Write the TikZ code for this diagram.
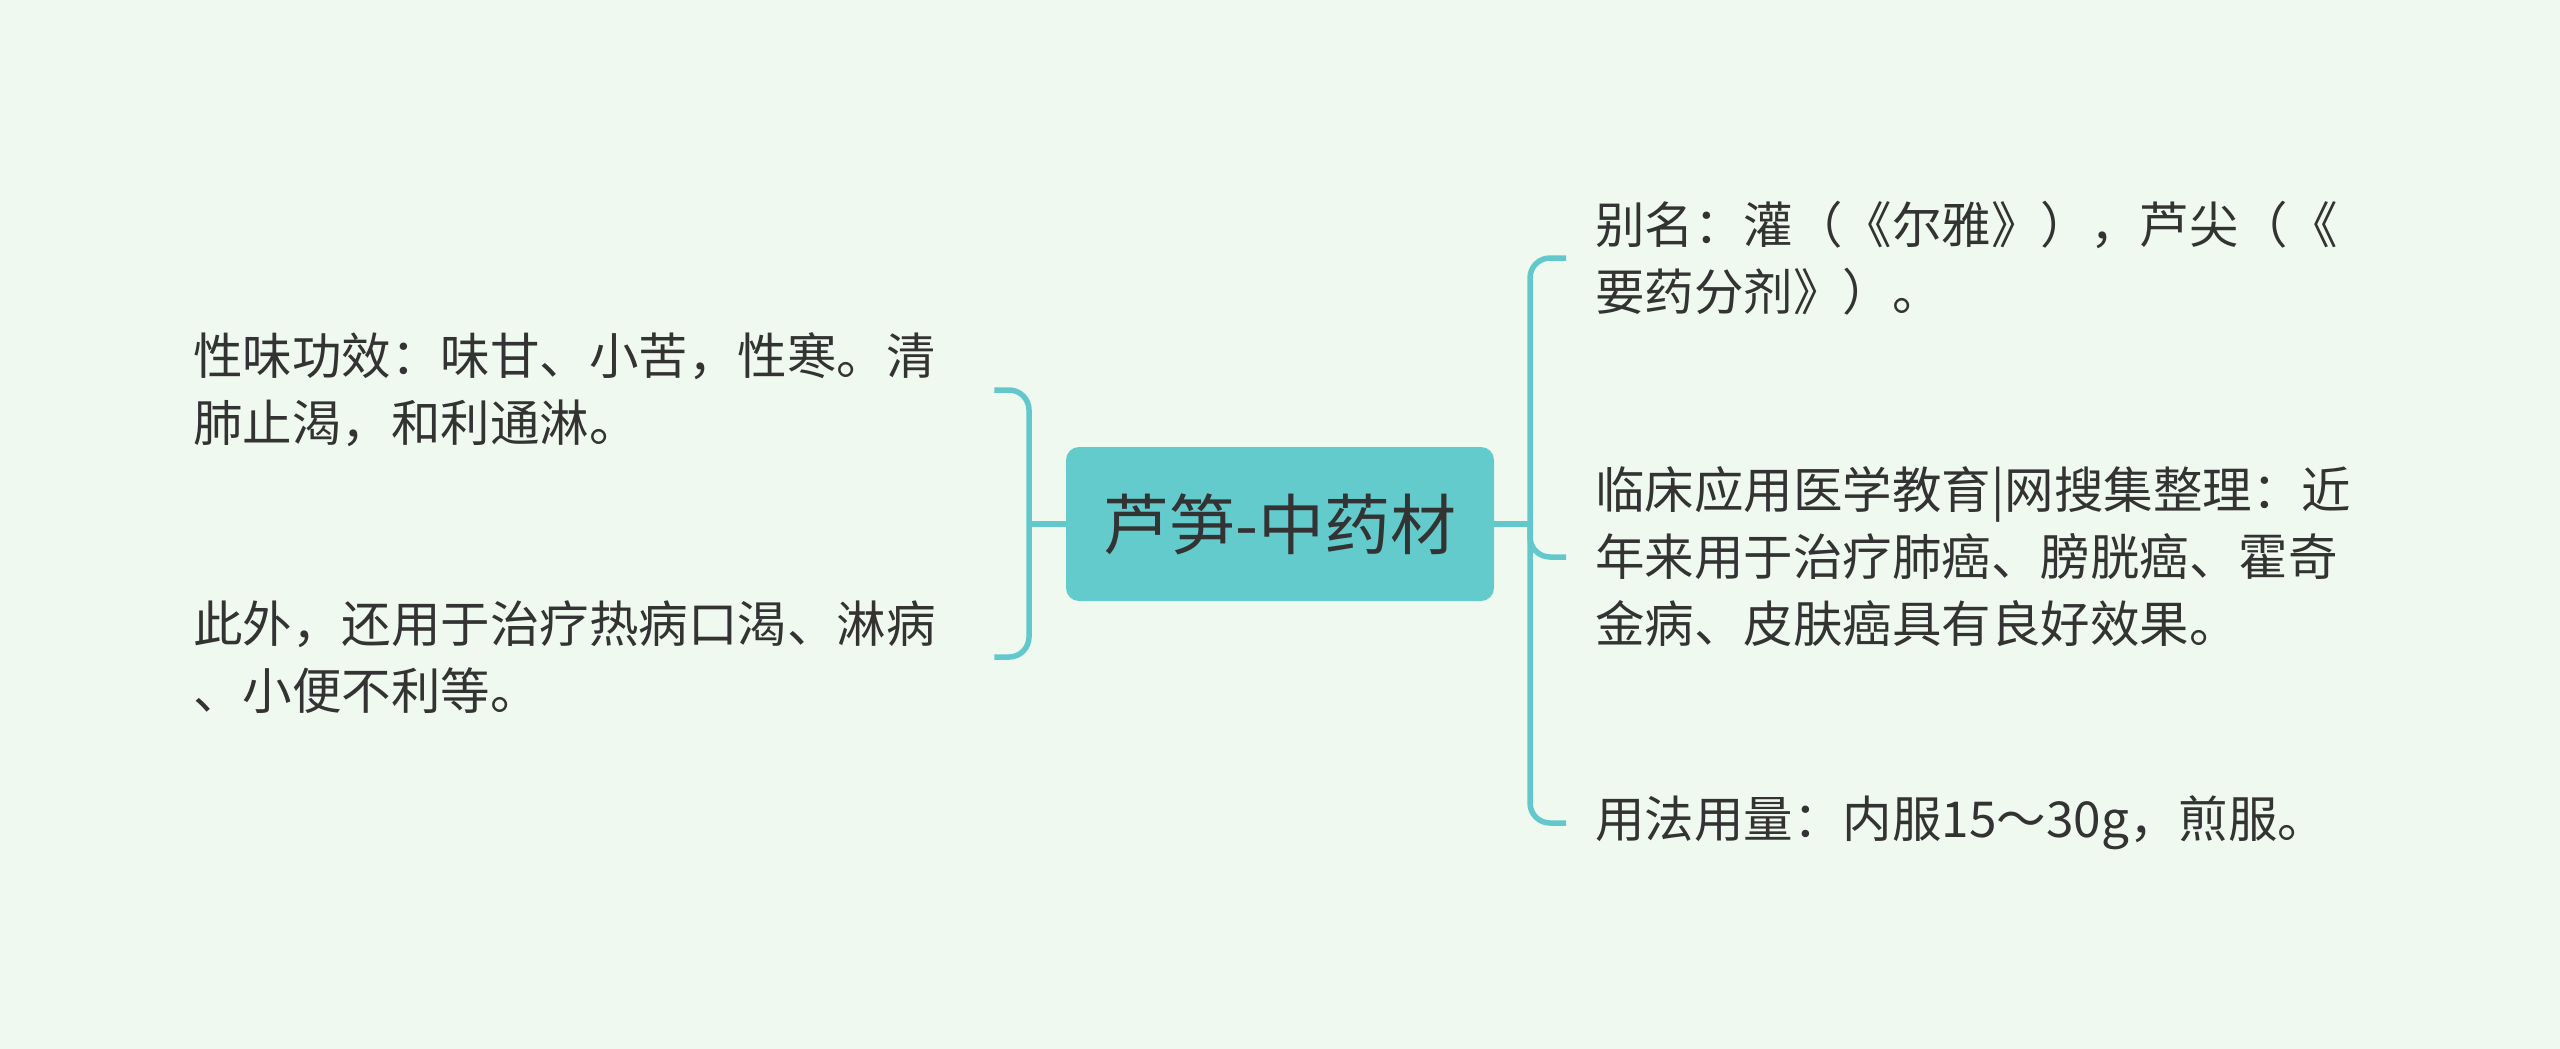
\documentclass[tikz,border=0pt]{standalone}
\usepackage{fontspec}
\newfontfamily\cjk{Noto Sans CJK SC}
\definecolor{bgC}{HTML}{F0F9EF}
\definecolor{lineC}{HTML}{62C8CB}
\definecolor{rootC}{HTML}{63CBCC}
\definecolor{txtC}{HTML}{333333}
\begin{document}
\begin{tikzpicture}[x=1pt,y=-1pt,
  conn/.style={draw=lineC, line width=5.5pt},
  leaf/.style={anchor=west, inner sep=0pt, align=left, text=txtC,
    font=\cjk\fontsize{49.5}{67}\selectfont},
  leftleaf/.style={leaf, text width=746pt}]
\fill[bgC] (0,0) rectangle (2560,1049);
\useasboundingbox (0,0) rectangle (2560,1049);
\node[fill=rootC, rounded corners=13pt, minimum width=428pt, minimum height=154pt,
  inner sep=0pt, text=txtC, font=\cjk\fontsize{66}{70}\selectfont] (root) at (1280,524) {芦笋-中药材};
% left
\node[leftleaf] (l1) at (193,390) {性味功效：味甘、小苦，性寒。清\\肺止渴，和利通淋。};
\node[leftleaf] (l2) at (193,657) {此外，还用于治疗热病口渴、淋病\\、小便不利等。};
% right
\node[leaf] (r1) at (1595,258) {别名：灌（《尔雅》），芦尖（《\\要药分剂》）。};
\node[leaf] (r2) at (1595,557) {临床应用医学教育|网搜集整理：近\\年来用于治疗肺癌、膀胱癌、霍奇\\金病、皮肤癌具有良好效果。};
\node[leaf] (r3) at (1595,823) {用法用量：内服15～30g，煎服。};
% connectors
\coordinate (lj) at (1029,524);
\coordinate (rj) at (1530,524);
\draw[conn] (root.west) -- (lj);
\draw[conn] (root.east) -- (rj);
\draw[conn, rounded corners=20pt] (lj) |- ([xshift=55pt]l1.east);
\draw[conn, rounded corners=20pt] (lj) |- ([xshift=55pt]l2.east);
\draw[conn, rounded corners=20pt] (rj) |- ([xshift=-29pt]r1.west);
\draw[conn, rounded corners=20pt] (rj) |- ([xshift=-29pt]r2.west);
\draw[conn, rounded corners=20pt] (rj) |- ([xshift=-29pt]r3.west);
\end{tikzpicture}
\end{document}
